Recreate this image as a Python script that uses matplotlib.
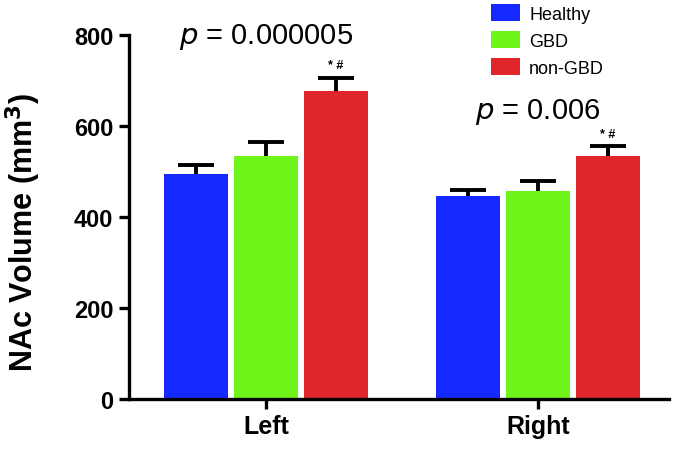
import matplotlib.pyplot as plt
import numpy as np

plt.rcParams['font.family'] = ['Liberation Sans', 'DejaVu Sans']

# data
sides = ["Left", "Right"]
groups = ["Healthy", "GBD", "non-GBD"]
colors = ["#1428ff", "#6ef51a", "#e0262b"]
means = {
    "Healthy": [495, 445],
    "GBD": [535, 456],
    "non-GBD": [678, 533],
}
sems = {
    "Healthy": [19, 15],
    "GBD": [29, 24],
    "non-GBD": [28, 23],
}
p_labels = ["0.000005", "0.006"]
p_y = [797, 632]

fig = plt.figure(figsize=(6.77, 4.56), dpi=100)
ax = fig.add_axes([0.19, 0.123, 0.798, 0.798])

x = np.arange(len(sides))
width = 0.235
step = 0.257
for i, g in enumerate(groups):
    pos = x + (i - 1) * step
    ax.bar(pos, means[g], width, color=colors[i], label=g, zorder=2)
    eb = ax.errorbar(pos, means[g], yerr=[np.zeros(2), sems[g]], fmt='none',
                     ecolor='black', elinewidth=2.8, capsize=13, capthick=2.8, zorder=1)
    eb[1][0].set_visible(False)  # no cap at the bar top

# star / hash markers above the non-GBD bars
for j in range(len(sides)):
    top = means["non-GBD"][j] + sems["non-GBD"][j]
    ax.text(x[j] + step, top + 14, "* #", ha='center', va='bottom',
            fontsize=9, fontweight='bold')
    ax.text(x[j], p_y[j], r"$\it{p}$ = " + p_labels[j], ha='center', va='center',
            fontsize=21)

ax.set_xlim(-0.504, 1.48)
ax.set_ylim(0, 800)
ax.set_yticks([0, 200, 400, 600, 800])
ax.set_xticks(x)
ax.set_xticklabels(sides, fontsize=18, fontweight='bold')
for lab in ax.get_yticklabels():
    lab.set_fontsize(17)
    lab.set_fontweight('bold')
ax.set_ylabel("NAc Volume (mm$^\\mathbf{3}$)", fontsize=22, fontweight='bold')
ax.yaxis.set_label_coords(-0.158, 0.46)

for s in ['top', 'right']:
    ax.spines[s].set_visible(False)
for s in ['left', 'bottom']:
    ax.spines[s].set_linewidth(2.4)
ax.spines['left'].set_bounds(0, 800)
ax.tick_params(width=2.4, length=7, pad=4)

ax.legend(loc='upper left', bbox_to_anchor=(0.715, 1.005), bbox_transform=fig.transFigure,
          frameon=False, fontsize=13, handlelength=1.6, handleheight=1.1,
          handletextpad=0.5, labelspacing=0.45, borderaxespad=0)

fig.savefig("out.png", dpi=100)
